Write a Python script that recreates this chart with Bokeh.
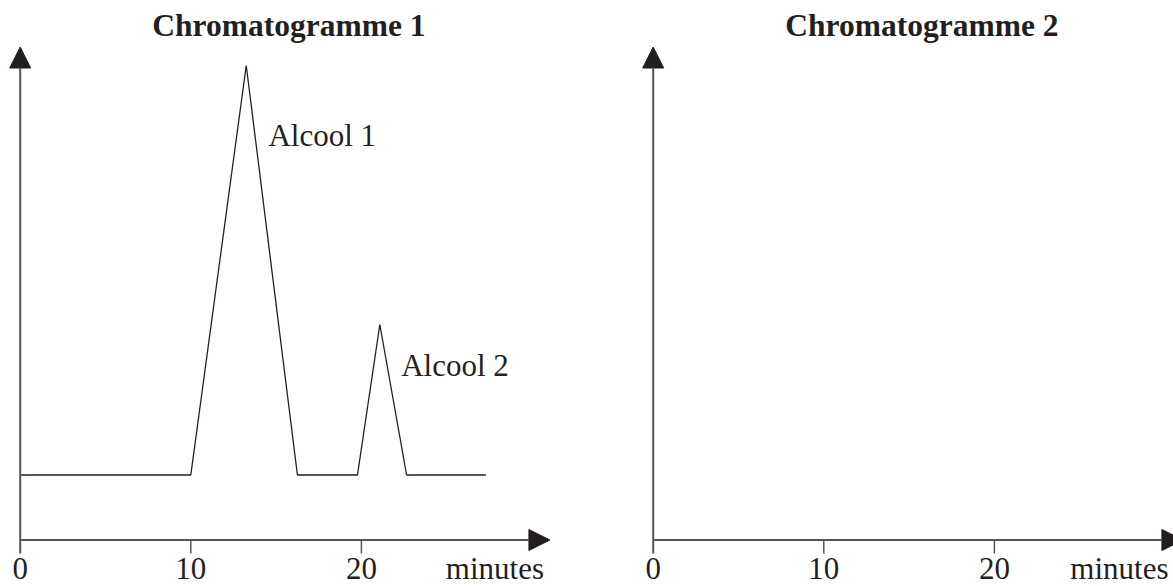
from bokeh.plotting import figure
from bokeh.layouts import row
from bokeh.models import Range1d, Arrow, NormalHead
from bokeh.core.properties import value
from bokeh.embed import file_html
from bokeh.resources import INLINE

# ---------------- data ----------------
titles = ["Chromatogramme 1", "Chromatogramme 2"]
tick_values = [0, 10, 20]
tick_labels = ["0", "10", "20"]
axis_unit = "minutes"

# chromatogram 1 (time in minutes, signal in arbitrary units)
times = [0, 10.0, 13.25, 16.25, 19.77, 21.08, 22.65, 27.3]
signal = [1.3, 1.3, 9.49, 1.3, 1.3, 4.31, 1.3, 1.3]
peak_names = ["Alcool 1", "Alcool 2"]
peak_times = [13.25, 21.08]
peak_heights = [9.49, 4.31]

# ---------------- style ----------------
FONT = value("Liberation Serif")
TXT = "#231f20"
AXIS = "#555555"
PX_PER_MIN = 17.06
PX_PER_UNIT = 50.0
H = 586
Y_AXIS_FROM_TOP = 539.5
Y_START = -(H - Y_AXIS_FROM_TOP) / PX_PER_UNIT
Y_END = Y_AXIS_FROM_TOP / PX_PER_UNIT
X_TIP = 31.05
Y_TIP = 9.86
TICK_LEN = 0.27
DY = 0.23  # baseline correction for text rendering
LABEL_Y = -0.80


def make_panel(title, width, origin_px, with_curve, unit_x):
    x_start = -origin_px / PX_PER_MIN
    x_end = x_start + width / PX_PER_MIN
    p = figure(width=width, height=H, output_backend="svg", toolbar_location=None,
               x_range=Range1d(x_start, x_end), y_range=Range1d(Y_START, Y_END),
               x_axis_type=None, y_axis_type=None, min_border=0,
               outline_line_color=None, background_fill_color="white",
               border_fill_color="white")
    p.grid.visible = False

    # axes with arrows
    head = dict(size=21, fill_color=TXT, line_color=TXT, line_width=1)
    p.add_layout(Arrow(x_start=0, y_start=-TICK_LEN, x_end=0, y_end=Y_TIP,
                       line_color=AXIS, line_width=2, end=NormalHead(**head)))
    p.add_layout(Arrow(x_start=0, y_start=0, x_end=X_TIP, y_end=0,
                       line_color=AXIS, line_width=2, end=NormalHead(**head)))
    # ticks
    ticks = [t for t in tick_values if t != 0]
    p.segment(x0=ticks, y0=[0] * len(ticks), x1=ticks, y1=[-TICK_LEN] * len(ticks),
              line_color=AXIS, line_width=1.5)
    # tick labels
    p.text(x=tick_values, y=[LABEL_Y + DY] * len(tick_values), text=tick_labels,
           text_font=FONT, text_font_size="31px", text_color=TXT,
           text_align="center", text_baseline="alphabetic")
    p.text(x=[unit_x], y=[LABEL_Y + DY], text=[axis_unit], text_font=FONT,
           text_font_size="31px", text_color=TXT, text_align="left",
           text_baseline="alphabetic")
    # title
    p.text(x=[15.75], y=[10.06 + DY], text=[title], text_font=FONT,
           text_font_size="31.5px", text_font_style="bold", text_color=TXT,
           text_align="center", text_baseline="alphabetic")

    if with_curve:
        p.line(times, signal, line_color=TXT, line_width=1.3)
        lx = [peak_times[0] + 1.3, peak_times[1] + 1.25]
        ly = [peak_heights[0] - 1.62 + DY, peak_heights[1] - 1.04 + DY]
        p.text(x=lx, y=ly, text=peak_names, text_font=FONT,
               text_font_size="31px", text_color=TXT, text_align="left",
               text_baseline="alphabetic")
    return p


p1 = make_panel(titles[0], 590, 19.7, True, 24.95)
p2 = make_panel(titles[1], 583, 62.7, False, 24.45)
layout = row(p1, p2)

open("out.html", "w").write(file_html(layout, INLINE))
